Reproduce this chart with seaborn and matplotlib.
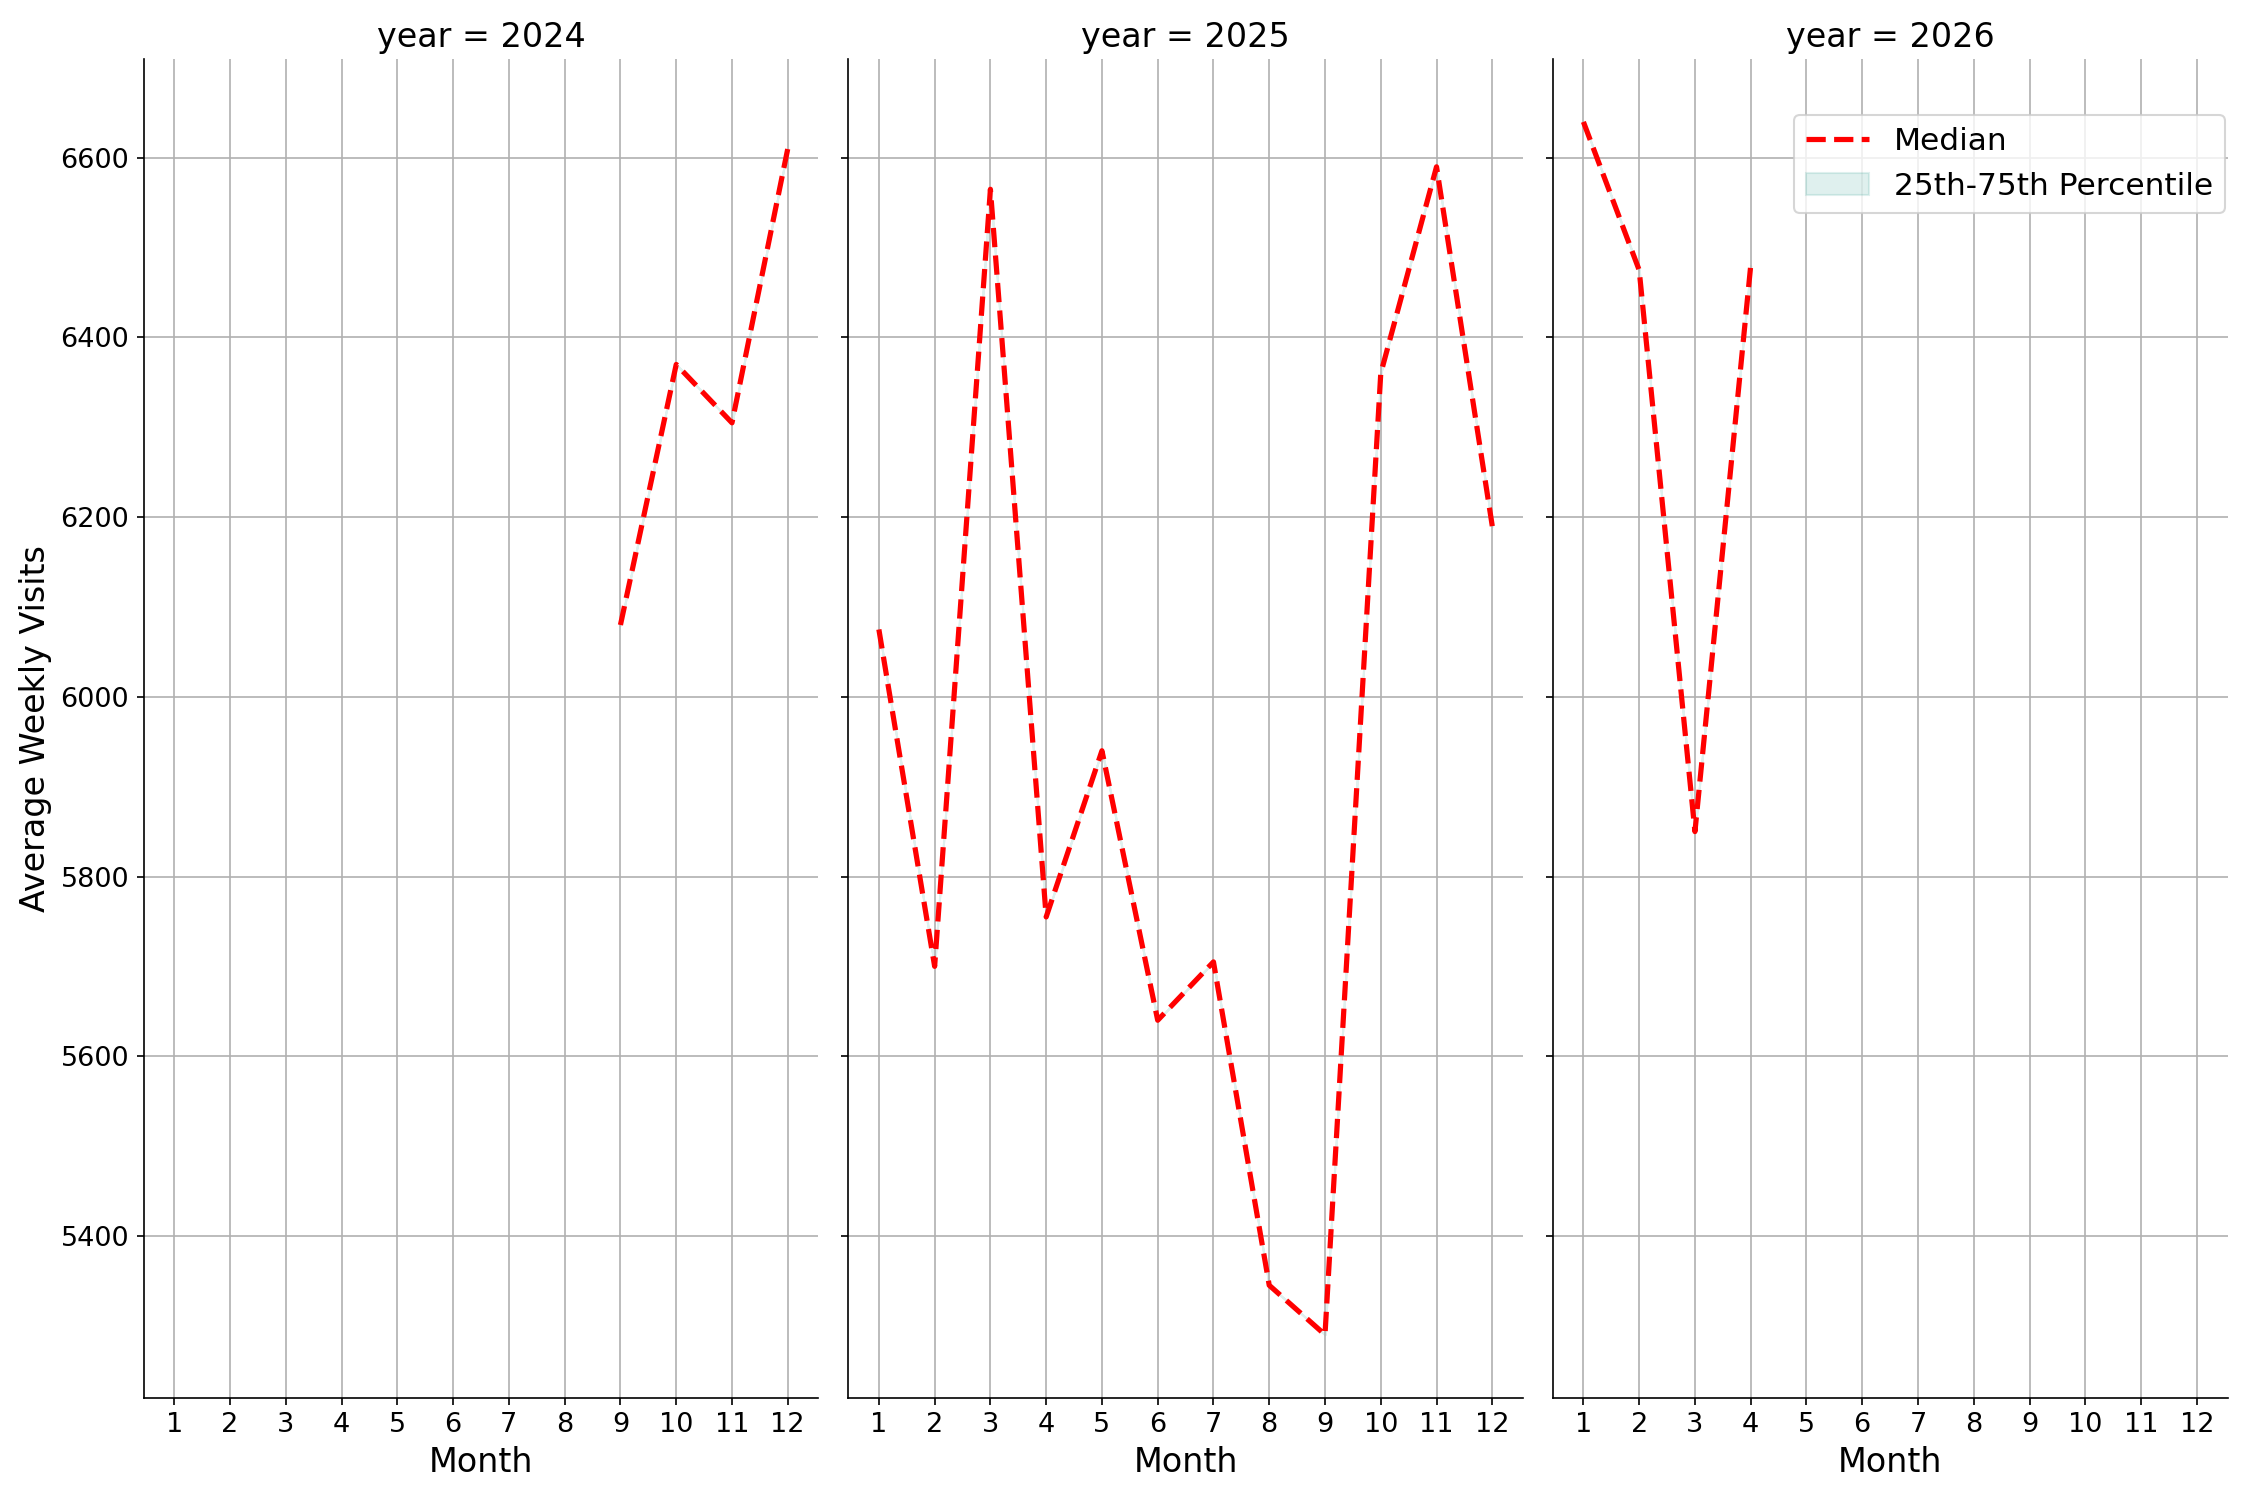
import numpy as np
import pandas as pd
import matplotlib
matplotlib.use("Agg")
import matplotlib.pyplot as plt
import seaborn as sns

# Monthly median of average weekly visits
years_2024 = [2024] * 4
months_2024 = [9, 10, 11, 12]
median_2024 = [6080, 6370, 6305, 6610]

years_2025 = [2025] * 12
months_2025 = list(range(1, 13))
median_2025 = [6075, 5700, 6565, 5755, 5940, 5640, 5705, 5345, 5290, 6360, 6590, 6190]

years_2026 = [2026] * 4
months_2026 = [1, 2, 3, 4]
median_2026 = [6640, 6475, 5850, 6480]

df = pd.DataFrame({
    "year": years_2024 + years_2025 + years_2026,
    "month": months_2024 + months_2025 + months_2026,
    "median": median_2024 + median_2025 + median_2026,
})

plt.rcParams["font.family"] = "DejaVu Sans"


def draw(data, **kwargs):
    ax = plt.gca()
    ax.plot(data["month"], data["median"], color="red", linestyle="--", lw=2.5, label="Median")
    ax.fill_between(data["month"], data["median"], data["median"], color="#2A9D8F",
                    alpha=0.15, label="25th-75th Percentile")


g = sns.FacetGrid(df, col="year", height=10, aspect=0.5, sharey=True,
                  col_order=[2024, 2025, 2026])
g.map_dataframe(draw)
g.set_titles("year = {col_name}", size=16)
g.set_axis_labels("Month", "Average Weekly Visits", fontsize=16)

for ax in g.axes.flat:
    ax.set_xticks(range(1, 13))
    ax.set_xlim(0.45, 12.55)
    ax.grid(True, color="#b0b0b0", lw=0.8)
    ax.tick_params(labelsize=13)
g.axes.flat[0].set_ylim(5220, 6710)

last = g.axes.flat[-1]
handles, labels = last.get_legend_handles_labels()
last.legend(handles, labels, loc="upper right", bbox_to_anchor=(1.02, 0.97),
            fontsize=15, framealpha=0.8)

g.figure.set_size_inches(15, 10)
g.figure.tight_layout()
g.figure.savefig("out.png", dpi=150)
